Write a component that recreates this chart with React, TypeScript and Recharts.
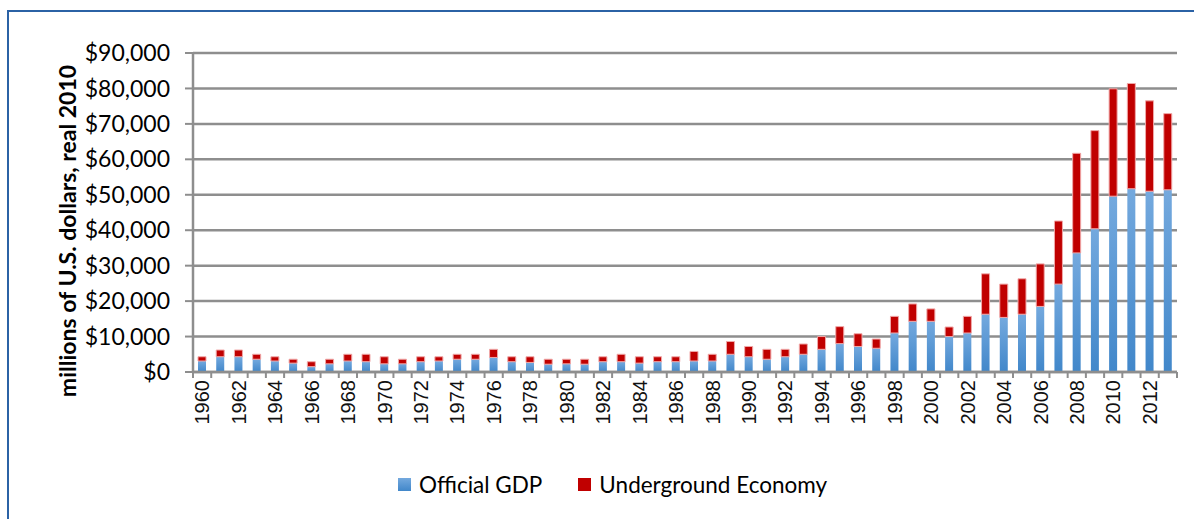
import React from 'react';
import { BarChart, Bar, XAxis, YAxis, CartesianGrid } from 'recharts';

const years = [
  1960, 1961, 1962, 1963, 1964, 1965, 1966, 1967, 1968, 1969,
  1970, 1971, 1972, 1973, 1974, 1975, 1976, 1977, 1978, 1979,
  1980, 1981, 1982, 1983, 1984, 1985, 1986, 1987, 1988, 1989,
  1990, 1991, 1992, 1993, 1994, 1995, 1996, 1997, 1998, 1999,
  2000, 2001, 2002, 2003, 2004, 2005, 2006, 2007, 2008, 2009,
  2010, 2011, 2012, 2013,
];

const officialGdp = [
  3100, 4300, 4300, 3600, 3100, 2500, 1500, 2300, 3100, 2900,
  2300, 2300, 2900, 3100, 3600, 3600, 4100, 2900, 2700, 2200,
  2300, 2200, 2900, 2900, 2500, 2900, 2900, 3100, 3100, 5000,
  4300, 3600, 4300, 5000, 6400, 8000, 7200, 6700, 11000, 14300,
  14300, 10000, 11000, 16300, 15400, 16300, 18500, 24800, 33600, 40400,
  49600, 51700, 51000, 51400,
];

const undergroundEconomy = [
  1200, 1900, 1900, 1400, 1200, 1100, 1400, 1300, 1900, 2100,
  2000, 1300, 1400, 1200, 1400, 1400, 2300, 1400, 1600, 1400,
  1300, 1400, 1400, 2100, 1800, 1400, 1400, 2700, 1900, 3600,
  2900, 2800, 2100, 2900, 3600, 4800, 3600, 2600, 4700, 4900,
  3500, 2700, 4700, 11400, 9400, 10000, 12000, 17800, 28100, 27700,
  30300, 29700, 25500, 21500,
];

const yTicks = [0, 10000, 20000, 30000, 40000, 50000, 60000, 70000, 80000, 90000];

const data = years.map((y, i) => ({
  year: String(y),
  official: officialGdp[i],
  underground: undergroundEconomy[i],
}));

const W = 1194;
const H = 519;
const margin = { top: 53, right: 17, bottom: 117, left: 0 };
const band = (W - 193 - margin.right) / years.length;
const gray = '#8E8E8E';

function XTick(props: any) {
  const { x, y, payload, index } = props;
  const i = payload?.index ?? index;
  const isLast = i === years.length - 1;
  return (
    <g>
      <line x1={x - band / 2} x2={x - band / 2} y1={y} y2={y + 6} stroke={gray} strokeWidth={2} />
      {isLast && <line x1={x + band / 2} x2={x + band / 2} y1={y} y2={y + 6} stroke={gray} strokeWidth={2} />}
      {i % 2 === 0 && (
        <text
          x={x}
          y={y + 8}
          transform={`rotate(-90, ${x}, ${y + 8})`}
          textAnchor="end"
          dy="0.36em"
          fontFamily="'Liberation Sans', Arial, sans-serif"
          fontSize={20}
          fill="#111"
        >
          {payload.value}
        </text>
      )}
    </g>
  );
}

function YTitle() {
  return (
    <text
      x={68}
      y={231}
      transform="rotate(-90, 68, 231)"
      textAnchor="middle"
      dy="0.35em"
      fontFamily="Lato, sans-serif"
      fontWeight={700}
      fontSize={23}
      fill="#000"
    >
      millions of U.S. dollars, real 2010
    </text>
  );
}

export default function App() {
  return (
    <div style={{ position: 'fixed', left: 0, top: 0, width: W, height: H, background: '#fff', overflow: 'hidden' }}>
      <div
        style={{
          position: 'absolute',
          left: 7,
          top: 10,
          width: 1300,
          height: 700,
          borderLeft: '2px solid #2B62A5',
          borderTop: '2px solid #2B62A5',
        }}
      />
      <div style={{ position: 'absolute', left: 0, top: 0 }}>
        <BarChart width={W} height={H} data={data} margin={margin} barSize={8}>
          <defs>
            <linearGradient id="gdpFill" x1="0" y1="0" x2="0" y2="1">
              <stop offset="0%" stopColor="#74A9DE" />
              <stop offset="100%" stopColor="#4187CA" />
            </linearGradient>
          </defs>
          <CartesianGrid vertical={false} stroke={gray} strokeWidth={2.5} />
          <XAxis
            dataKey="year"
            interval={0}
            height={30}
            tickSize={0}
            tickMargin={0}
            tickLine={false}
            axisLine={{ stroke: gray, strokeWidth: 2.5 }}
            tick={<XTick />}
          />
          <YAxis
            width={193}
            domain={[0, 90000]}
            ticks={yTicks}
            interval={0}
            tickSize={8}
            tickMargin={15}
            tickLine={{ stroke: gray, strokeWidth: 2 }}
            axisLine={{ stroke: gray, strokeWidth: 2.5 }}
            tick={{ fontFamily: 'Lato, sans-serif', fontSize: 23, fill: '#000' }}
            tickFormatter={(v: number) => `$${v.toLocaleString('en-US')}`}
            label={<YTitle />}
          />
          <Bar dataKey="official" name="Official GDP" stackId="a" fill="url(#gdpFill)" isAnimationActive={false} />
          <Bar
            dataKey="underground"
            name="Underground Economy"
            stackId="a"
            fill="#C00000"
            stroke="#F0A8A8"
            strokeWidth={1}
            isAnimationActive={false}
          />
        </BarChart>
      </div>
      <div
        style={{
          position: 'absolute',
          top: 471,
          left: 398,
          display: 'flex',
          alignItems: 'center',
          fontFamily: 'Lato, sans-serif',
          fontSize: 22.5,
          color: '#000',
        }}
      >
        <span style={{ width: 13, height: 13, background: 'linear-gradient(#74A9DE, #4187CA)', marginRight: 8 }} />
        <span>Official GDP</span>
        <span style={{ width: 13, height: 13, background: '#C00000', marginLeft: 36, marginRight: 8 }} />
        <span>Underground Economy</span>
      </div>
    </div>
  );
}
